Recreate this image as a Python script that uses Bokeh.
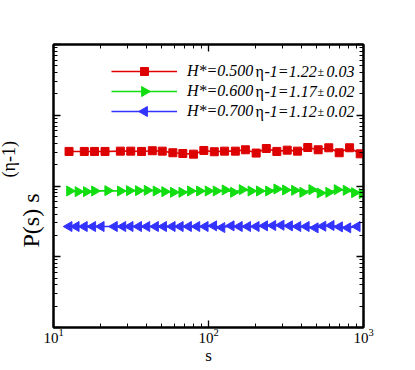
import math
from bokeh.plotting import figure
from bokeh.models import (LogAxis, FixedTicker, Legend, LegendItem, Label, Title,
                          ColumnDataSource, Range1d)
from bokeh.embed import file_html
from bokeh.resources import INLINE

# ---------------- data ----------------
red_s = [12.6, 15.8, 18.4, 21.5, 27.0, 31.5, 37.0, 43.4, 50.3, 58.9, 68.3, 80.0, 93.3, 109,
         127, 149, 173, 203, 236, 276, 322, 375, 437, 510, 597, 697, 813, 952]
red_v = [0.0308, 0.0308, 0.0308, 0.0308, 0.0311, 0.0311, 0.0308, 0.0315, 0.0311, 0.0295,
         0.0288, 0.0282, 0.0318, 0.0305, 0.0311, 0.0311, 0.0325, 0.0292, 0.0339, 0.0308,
         0.0321, 0.0311, 0.0350, 0.0325, 0.0347, 0.0295, 0.0347, 0.0285]

green_s = [12.7, 14.4, 16.3, 18.4, 22.4, 27.0, 30.9, 35.3, 40.2, 45.9, 52.2, 59.4, 67.3, 76.5,
           87.5, 99.5, 112, 128, 145, 165, 188, 213, 244, 276, 314, 359, 406, 464, 525, 597,
           676, 773, 875, 980]
green_v = [0.00850, 0.00832, 0.00832, 0.00850, 0.00860, 0.00850, 0.00860, 0.00860, 0.00869,
           0.00850, 0.00832, 0.00814, 0.00814, 0.00850, 0.00850, 0.00850, 0.00850, 0.00879,
           0.00814, 0.00888, 0.00850, 0.00850, 0.00850, 0.00907, 0.00879, 0.00869, 0.00814,
           0.00888, 0.00796, 0.00814, 0.00888, 0.00869, 0.00805, 0.00780]

blue_s = [12.6, 14.0, 15.8, 17.9, 20.3, 24.7, 28.0, 31.2, 35.4, 40.0, 45.5, 51.3, 58.3, 65.7,
          74.3, 84.1, 95.2, 108, 122, 140, 158, 179, 203, 230, 260, 294, 333, 377, 427, 488,
          547, 618, 700, 792, 910]
blue_v = [0.002674] * 17 + [0.002733, 0.002588, 0.002733, 0.002674, 0.002674, 0.002674,
                            0.002733, 0.002763, 0.002793, 0.002733, 0.002674, 0.002674,
                            0.002562, 0.002703, 0.002763, 0.002645, 0.002562, 0.002674]

series_labels = ["H*=0.500", "H*=0.600", "H*=0.700"]
eta_values = ["-1=1.22", "-1=1.17", "-1=1.12"]
eta_errors = ["0.03", "0.02", "0.02"]
colors = ["#dd0000", "#11dd11", "#3333ff"]

x_major = [10, 100, 1000]
y_major = [1e-4, 1e-3, 1e-2, 1e-1, 1]

SERIF = "Liberation Serif"
FW, FH = 310, 283          # frame size (px)
XMIN, XMAX, YMIN, YMAX = 10, 1000, 1e-4, 1

# ---------------- figure ----------------
p = figure(frame_width=FW, frame_height=FH, x_axis_type="log", y_axis_type="log",
           x_range=Range1d(XMIN, XMAX), y_range=Range1d(YMIN, YMAX),
           output_backend="svg", toolbar_location=None,
           min_border_left=53, min_border_right=40, min_border_top=44, min_border_bottom=20)
p.grid.visible = False
p.outline_line_color = "black"
p.outline_line_width = 2
p.background_fill_color = "white"
p.border_fill_color = "white"

x_minor = [k * d for d in x_major[:-1] for k in range(2, 10)]
y_minor = [k * d for d in y_major[:-1] for k in range(2, 10)]
xt = FixedTicker(ticks=x_major, minor_ticks=x_minor)
yt = FixedTicker(ticks=y_major, minor_ticks=y_minor)


def style_axis(ax, labels):
    ax.axis_line_color = "black"
    ax.axis_line_width = 2
    ax.major_tick_in = 7
    ax.major_tick_out = 0
    ax.minor_tick_in = 4
    ax.minor_tick_out = 0
    ax.major_tick_line_width = 1.3
    ax.minor_tick_line_width = 1
    if not labels:
        ax.major_label_text_alpha = 0
        ax.major_label_text_font_size = "1px"
        ax.major_label_standoff = -3


p.xaxis[0].ticker = xt
p.yaxis[0].ticker = yt
style_axis(p.xaxis[0], True)
style_axis(p.yaxis[0], False)
xa = p.xaxis[0]
xa.major_label_text_font = SERIF
xa.major_label_text_font_size = "15px"
xa.major_label_text_color = "black"
xa.major_label_standoff = 1
xa.axis_label = "s"
xa.axis_label_text_font = SERIF
xa.axis_label_text_font_style = "normal"
xa.axis_label_text_font_size = "17px"
xa.axis_label_text_color = "black"
xa.axis_label_standoff = 0

top = LogAxis(ticker=xt)
right = LogAxis(ticker=yt)
style_axis(top, False)
style_axis(right, False)
p.add_layout(top, "above")
p.add_layout(right, "right")

# y-axis title: base text and raised exponent, as two stacked side titles
p.add_layout(Title(text="P(s) s", align="left", offset=80, vertical_align="top", standoff=15,
                   text_font=SERIF, text_font_style="normal", text_font_size="24px",
                   text_color="black"), "left")
p.add_layout(Title(text="(\u03b7-1)", align="left", offset=150, vertical_align="middle",
                   standoff=-18, text_font=SERIF, text_font_style="normal",
                   text_font_size="18px", text_color="black"), "left")

# ---------------- series ----------------
datasets = [(red_s, red_v, "square", 8, 0.0),
            (green_s, green_v, "triangle", 10, -math.pi / 2),
            (blue_s, blue_v, "triangle", 10, math.pi / 2)]
items = []
LEG_X0, LEG_W, ROW0, ROW_H = 58, 66, 27, 20   # legend layout in frame pixels


def fx(px):  # frame pixel -> data x
    return 10 ** (math.log10(XMIN) + px / FW * (math.log10(XMAX) - math.log10(XMIN)))


def fy(py_from_top):  # frame pixel -> data y
    return 10 ** (math.log10(YMAX) - py_from_top / FH * (math.log10(YMAX) - math.log10(YMIN)))


for i, ((sx, sv, mk, sz, ang), col, lab) in enumerate(zip(datasets, colors, series_labels)):
    src = ColumnDataSource(dict(s=sx, v=sv))
    lr = p.line("s", "v", source=src, line_color=col, line_width=1.6)
    p.scatter("s", "v", source=src, marker=mk, size=sz, angle=ang,
              fill_color=col, line_color=col)
    items.append(LegendItem(label=lab, renderers=[lr]))
    # legend sample marker (centred on the legend line)
    p.scatter([fx(LEG_X0 + LEG_W / 2)], [fy(ROW0 + ROW_H * i)], marker=mk, size=sz,
              angle=ang, fill_color=col, line_color=col)

legend = Legend(items=items, location=(LEG_X0, FH - ROW0 - ROW_H * 2.5), glyph_width=LEG_W,
                glyph_height=ROW_H, label_height=ROW_H, spacing=0, padding=0, margin=0,
                label_standoff=10, border_line_alpha=0, background_fill_alpha=0,
                label_text_font=SERIF, label_text_font_style="italic",
                label_text_font_size="16px", label_text_color="black")
p.add_layout(legend)

# eta texts next to legend rows
for i, (ev, ee) in enumerate(zip(eta_values, eta_errors)):
    yc = FH - ROW0 - ROW_H * i
    common = dict(y=yc, x_units="screen", y_units="screen", text_baseline="middle",
                  text_font=SERIF, text_color="black")
    p.add_layout(Label(x=202, text="\u03b7", text_font_size="16px", **common))
    p.add_layout(Label(x=211, text=ev, text_font_size="16px", text_font_style="italic", **common))
    p.add_layout(Label(x=264, text="\u00b1", text_font_size="12px", **common))
    p.add_layout(Label(x=273, text=ee, text_font_size="16px", text_font_style="italic", **common))

open("out.html", "w").write(file_html(p, INLINE))
